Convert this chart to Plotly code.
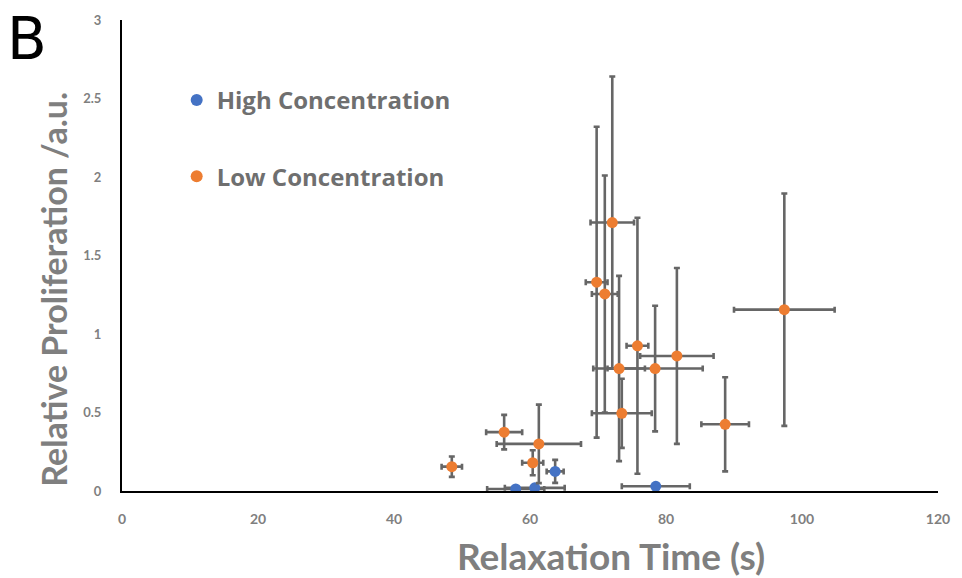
import plotly.graph_objects as go

# Relaxation time (s) vs relative proliferation, mean ± error
high_x = [57.9, 60.7, 63.7, 78.5]
high_y = [0.013, 0.02, 0.125, 0.03]
high_xerr = [4.2, 4.4, 1.25, 5.0]
high_yerr = [0.01, 0.01, 0.073, 0.01]

low_x = [48.5, 56.2, 61.3, 60.4, 69.8, 71.0, 72.1, 75.8, 73.1, 78.4, 81.6, 73.5, 88.7, 97.4]
low_y = [0.155, 0.375, 0.30, 0.18, 1.33, 1.255, 1.71, 0.925, 0.78, 0.78, 0.86, 0.495, 0.425, 1.155]
low_xerr = [1.5, 2.65, 6.2, 1.55, 1.6, 1.9, 3.2, 1.6, 3.8, 7.0, 5.4, 4.4, 3.5, 7.4]
low_yerr = [0.065, 0.11, 0.25, 0.08, 0.99, 0.755, 0.93, 0.815, 0.59, 0.40, 0.56, 0.22, 0.30, 0.74]

x_ticks = [0, 20, 40, 60, 80, 100, 120]
y_ticks = [0, 0.5, 1, 1.5, 2, 2.5, 3]
y_tick_text = ["0", "0.5", "1", "1.5", "2", "2.5", "3"]

BAR_COLOR = "#666666"
GREY = "#7f7f7f"
FONT = "Lato"


def err(values):
    return dict(type="data", array=values, visible=True, color=BAR_COLOR,
                thickness=2.6, width=3)


fig = go.Figure()
fig.add_trace(go.Scatter(
    x=high_x, y=high_y, mode="markers", name="High Concentration",
    legendgroup="high",
    marker=dict(color="#4472C4", size=11),
    error_x=err(high_xerr), error_y=err(high_yerr),
))
fig.add_trace(go.Scatter(
    x=low_x, y=low_y, mode="markers", name="Low Concentration",
    legendgroup="low",
    marker=dict(color="#ED7D31", size=11),
    error_x=err(low_xerr), error_y=err(low_yerr),
))

fig.update_layout(
    width=962, height=578,
    margin=dict(l=122, r=24, t=18, b=87),
    paper_bgcolor="white", plot_bgcolor="white",
    font=dict(family=FONT, color=GREY),
    showlegend=True,
    legend=dict(
        x=0.067, y=0.877, xanchor="left", yanchor="top",
        font=dict(family="Open Sans", size=24, color="#6f6f6f", weight="bold"),
        tracegroupgap=42, itemsizing="constant",
        bgcolor="rgba(0,0,0,0)",
    ),
    xaxis=dict(
        range=[0, 120], tickvals=x_ticks, showgrid=False, zeroline=False,
        showline=True, linecolor="black", linewidth=2,
        ticks="", ticklabelstandoff=14,
        tickfont=dict(family=FONT, size=14, color=GREY, weight="bold"),
    ),
    yaxis=dict(
        range=[0, 3], tickvals=y_ticks, ticktext=y_tick_text,
        showgrid=False, zeroline=False,
        showline=True, linecolor="black", linewidth=2,
        ticks="", ticklabelstandoff=16,
        tickfont=dict(family=FONT, size=13, color=GREY, weight="bold"),
    ),
    annotations=[
        dict(text="Relaxation Time (s)", xref="paper", yref="paper",
             x=0.599, y=-0.084, xanchor="center", yanchor="top",
             showarrow=False,
             font=dict(family=FONT, size=37, color=GREY, weight="bold")),
        dict(text="Relative Proliferation /a.u.", xref="paper", yref="paper",
             x=-0.056, y=0.429, xanchor="right", yanchor="middle",
             textangle=-90, showarrow=False,
             font=dict(family=FONT, size=34, color=GREY, weight="bold")),
        dict(text="B", xref="paper", yref="paper",
             x=-0.142, y=1.034, xanchor="left", yanchor="top",
             showarrow=False, borderpad=0,
             font=dict(family="DejaVu Sans", size=58, color="black")),
    ],
)

fig.write_html("out.html")
